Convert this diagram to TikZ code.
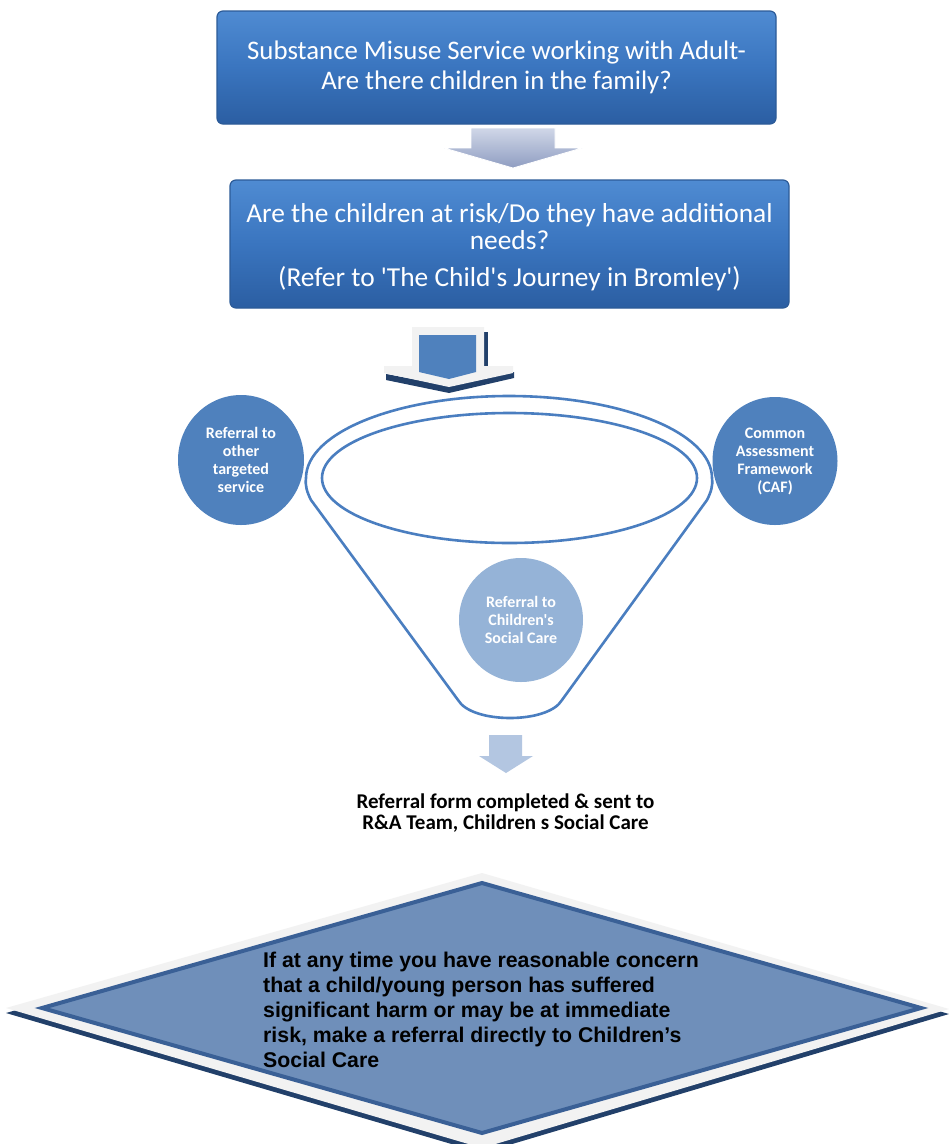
\documentclass[tikz,border=0pt]{standalone}
\usepackage{fontspec}
\setmainfont{Carlito}[Ligatures=TeXOff]
\newfontfamily\arialfont{Liberation Sans}
\usetikzlibrary{shapes.geometric}
\definecolor{boxtop}{HTML}{4F8BD2}
\definecolor{boxmid}{HTML}{3A75BF}
\definecolor{boxbot}{HTML}{2B5EA2}
\definecolor{boxedge}{HTML}{2C5B98}
\definecolor{accent}{HTML}{4F81BD}
\definecolor{paleacc}{HTML}{95B3D7}
\definecolor{arrowlight}{HTML}{B3C6E1}
\definecolor{arrowtop}{HTML}{D0D7E8}
\definecolor{arrowbot}{HTML}{8F9DC1}
\definecolor{shadowblue}{HTML}{22406A}
\definecolor{rimgray}{HTML}{F2F2F2}
\definecolor{diafill}{HTML}{6F8FBA}
\definecolor{diaedge}{HTML}{3A6096}
\definecolor{funnelblue}{HTML}{4A7EC0}
\begin{document}
\begin{tikzpicture}[x=1pt,y=-1pt,
  bluebox/.style={draw=boxedge, line width=1.2pt, rounded corners=6pt,
    top color=boxtop, bottom color=boxbot, middle color=boxmid,
    text=white, align=center, inner sep=0pt},
  boxtext/.style={text=white, align=center, inner sep=0pt},
  circ/.style={ellipse, fill=accent, text=white, align=center, inner sep=0pt,
    font=\bfseries\fontsize{16}{18}\selectfont},
  funnelline/.style={draw=funnelblue, line width=2.6pt, line join=round}]
\useasboundingbox[fill=white] (0,0) rectangle (949,1144);

% top boxes
\node[bluebox, minimum width=559, minimum height=113,
  font=\fontsize{26.8}{30}\selectfont] (b1) at (496.5,67.5)
  {Substance Misuse Service working with Adult-\\Are there children in the family?};
\node[bluebox, minimum width=559, minimum height=128] (b2) at (509.5,244) {};
\node[boxtext, font=\fontsize{27.4}{27}\selectfont] (b2text) at (509.5,247.5)
  {Are the children at risk/Do they have additional\\needs?\\[10pt](Refer to 'The Child's Journey in Bromley')};

% arrow 1
\shade[top color=arrowtop, bottom color=arrowbot, draw=white, line width=0.8pt]
  (471,128) -- (555,128) -- (555,148) -- (582,148) -- (513,168) -- (444,148) -- (471,148) -- cycle;

% arrow 2 (3D block arrow)
\fill[shadowblue] (484,332) -- (488,332) -- (488,367) -- (484,367) -- cycle;
\fill[shadowblue] (386,374) -- (449,386) -- (514,372) -- (514,378) -- (449,393) -- (386,380) -- cycle;
\fill[rimgray] (412,327) -- (484,327) -- (484,366) -- (513,366) -- (513,373) -- (449,387) -- (384,373) -- (384,366) -- (412,366) -- cycle;
\fill[accent] (419,335) -- (476,335) -- (476,372) -- (449,379) -- (419,372) -- cycle;

% funnel
\draw[funnelline] (306,478) arc[start angle=180, end angle=360, x radius=203, y radius=82]
  .. controls (713,486) and (711,492) .. (707,500) -- (562,700)
  .. controls (548,724) and (472,724) .. (458,700) -- (311,500)
  .. controls (307,492) and (305,486) .. cycle;
\draw[funnelline] (509.5,478) ellipse[x radius=187.5, y radius=65];

% circles
\node[circ, minimum width=126, minimum height=130] (left) at (241,460)
  {Referral to\\other\\targeted\\service};
\node[circ, minimum width=125, minimum height=128] (right) at (775,461)
  {Common\\Assessment\\Framework\\(CAF)};
\node[circ, fill=paleacc, minimum width=124, minimum height=124] (mid) at (521,620)
  {Referral to\\Children's\\Social Care};

% arrow 3
\fill[arrowlight] (489,735) -- (522,735) -- (522,756) -- (533,756) -- (506,773) -- (479,756) -- (489,756) -- cycle;

% referral text
\node[align=center, inner sep=0pt, font=\bfseries\fontsize{21}{21}\selectfont] (form) at (505.5,813)
  {Referral form completed \& sent to\\R\&A Team, Children s Social Care};

% diamond
\fill[shadowblue] (482,878) -- (949,1014) -- (482,1153) -- (6,1013) -- cycle;
\fill[rimgray] (482,873) -- (949,1009) -- (482,1148) -- (6,1008) -- cycle;
\draw[fill=diafill, draw=diaedge, line width=4pt] (482,883) -- (921,1008) -- (482,1133) -- (42,1008) -- cycle;
\node[anchor=north west, align=left, inner sep=0pt,
  font=\arialfont\bfseries\fontsize{21.3}{25}\selectfont] (warn) at (263,952)
  {If at any time you have reasonable concern\\that a child/young person has suffered\\significant harm or may be at immediate\\risk, make a referral directly to Children’s\\Social Care};
\end{tikzpicture}
\end{document}
